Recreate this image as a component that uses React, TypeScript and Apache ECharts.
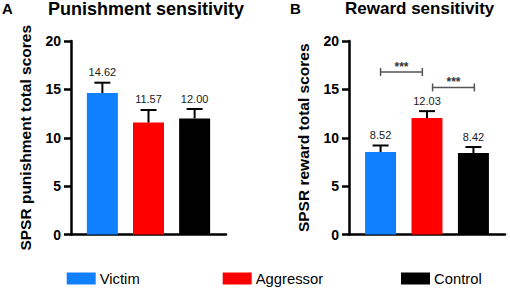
import React, { useEffect, useRef } from "react";
import * as echarts from "echarts";

const groups = ["Victim", "Aggressor", "Control"];
const punishMean = [14.62, 11.57, 12.0];
const punishSem = [1.07, 1.3, 0.97];
const rewardMean = [8.52, 12.03, 8.42];
const rewardSem = [0.68, 0.72, 0.62];
// significance brackets on panel B: [from x, to x, y level]
const rewardBrackets = [
  [0, 0.9, 16.8],
  [1.12, 2.02, 15.2],
];
const bracketLabel = "***";
const yMin = 0;
const yMax = 20;
const yStep = 5;
const panelTitles = ["Punishment sensitivity", "Reward sensitivity"];
const panelLetters = ["A", "B"];
const yNames = ["SPSR punishment total scores", "SPSR reward total scores"];

const COLORS = ["#1080FF", "#FF0000", "#000000"];
const FONT = "'Liberation Sans', Arial, Helvetica, sans-serif";

function errorSeries(idx: number, means: number[], sems: number[]) {
  return {
    type: "custom",
    xAxisIndex: idx,
    yAxisIndex: idx,
    z: 10,
    silent: true,
    data: means.map((m, i) => [i, m, sems[i]]),
    renderItem: (params: any, api: any) => {
      const x = api.value(0);
      const m = api.value(1);
      const s = api.value(2);
      const p0 = api.coord([x, m]);
      const p1 = api.coord([x, m + s]);
      const st = { stroke: "#000", lineWidth: 2 };
      return {
        type: "group",
        children: [
          { type: "line", shape: { x1: p0[0], y1: p0[1], x2: p1[0], y2: p1[1] }, style: st },
          { type: "line", shape: { x1: p1[0] - 8, y1: p1[1], x2: p1[0] + 8, y2: p1[1] }, style: st },
          {
            type: "text",
            x: p1[0],
            y: p1[1] - 5,
            style: {
              text: m.toFixed(2),
              align: "center",
              verticalAlign: "bottom",
              fontSize: 11,
              fontFamily: FONT,
              fill: "#1a1a1a",
            },
          },
        ],
      };
    },
  };
}

function bracketSeries(idx: number, brackets: number[][]) {
  return {
    type: "custom",
    xAxisIndex: idx,
    yAxisIndex: idx,
    z: 10,
    silent: true,
    data: brackets,
    renderItem: (params: any, api: any) => {
      const a = api.coord([api.value(0), api.value(2)]);
      const b = api.coord([api.value(1), api.value(2)]);
      const st = { stroke: "#555", lineWidth: 1.5 };
      return {
        type: "group",
        children: [
          { type: "line", shape: { x1: a[0], y1: a[1], x2: b[0], y2: b[1] }, style: st },
          { type: "line", shape: { x1: a[0], y1: a[1] - 4, x2: a[0], y2: a[1] + 4 }, style: st },
          { type: "line", shape: { x1: b[0], y1: b[1] - 4, x2: b[0], y2: b[1] + 4 }, style: st },
          {
            type: "text",
            x: (a[0] + b[0]) / 2,
            y: a[1] - 5,
            style: {
              text: bracketLabel,
              align: "center",
              verticalAlign: "middle",
              fontSize: 12,
              fontWeight: "bold",
              fontFamily: FONT,
              fill: "#333",
            },
          },
        ],
      };
    },
  };
}

export default function App() {
  const ref = useRef<HTMLDivElement>(null);
  useEffect(() => {
    if (!ref.current) return;
    const chart = echarts.init(ref.current, undefined, { renderer: "svg" });
    const grids = [
      { left: 71, top: 41, width: 155, height: 193.5 },
      { left: 349, top: 41, width: 156, height: 193.5 },
    ];
    const xAxes = grids.map((_, i) => ({
      type: "value",
      gridIndex: i,
      min: -0.68,
      max: 2.68,
      axisLine: { show: true, onZero: false, lineStyle: { color: "#000", width: 2.5 } },
      axisTick: { show: false },
      axisLabel: { show: false },
      splitLine: { show: false },
    }));
    const yAxes = grids.map((_, i) => ({
      type: "value",
      gridIndex: i,
      min: yMin,
      max: yMax,
      interval: yStep,
      name: yNames[i],
      nameLocation: "middle",
      nameGap: 38,
      nameTextStyle: { fontSize: 15.5, fontWeight: "bold", color: "#000", fontFamily: FONT },
      axisLine: { show: true, onZero: false, lineStyle: { color: "#000", width: 2.5 } },
      axisTick: { show: true, length: 7, lineStyle: { color: "#000", width: 2.5 } },
      axisLabel: { fontSize: 14, fontWeight: "bold", color: "#000", margin: 10, fontFamily: FONT },
      splitLine: { show: false },
    }));
    const barSeries: any[] = [];
    [punishMean, rewardMean].forEach((means, p) => {
      groups.forEach((g, i) => {
        barSeries.push({
          type: "bar",
          name: g,
          xAxisIndex: p,
          yAxisIndex: p,
          barWidth: 31,
          barGap: "-100%",
          itemStyle: { color: COLORS[i] },
          data: [[i, means[i]]],
        });
      });
    });
    const legendLeft = [66.7, 222.7, 401];
    chart.setOption({
      animation: false,
      textStyle: { fontFamily: FONT },
      title: [
        { text: panelLetters[0], left: 2, top: 1, textStyle: { fontSize: 15, fontWeight: "bold", color: "#000", fontFamily: FONT } },
        { text: panelTitles[0], left: 48, top: 0, textStyle: { fontSize: 18, fontWeight: "bold", color: "#000", fontFamily: FONT } },
        { text: panelLetters[1], left: 290, top: 1, textStyle: { fontSize: 15, fontWeight: "bold", color: "#000", fontFamily: FONT } },
        { text: panelTitles[1], left: 345, top: 0, textStyle: { fontSize: 17, fontWeight: "bold", color: "#000", fontFamily: FONT } },
      ].map((t) => ({ ...t, padding: 0 })),
      legend: groups.map((g, i) => ({
        data: [g],
        left: legendLeft[i],
        top: 271,
        padding: 0,
        icon: "rect",
        itemWidth: 29,
        itemHeight: 12,
        itemGap: 4,
        selectedMode: false,
        textStyle: { fontSize: 14.8, color: "#000", fontFamily: FONT, padding: [0, 0, 0, -1] },
      })),
      grid: grids,
      xAxis: xAxes,
      yAxis: yAxes,
      series: [
        ...barSeries,
        errorSeries(0, punishMean, punishSem),
        errorSeries(1, rewardMean, rewardSem),
        bracketSeries(1, rewardBrackets),
      ],
    });
    return () => chart.dispose();
  }, []);
  return (
    <div
      ref={ref}
      style={{ position: "fixed", left: 0, top: 0, width: 510, height: 288, background: "#fff" }}
    />
  );
}
